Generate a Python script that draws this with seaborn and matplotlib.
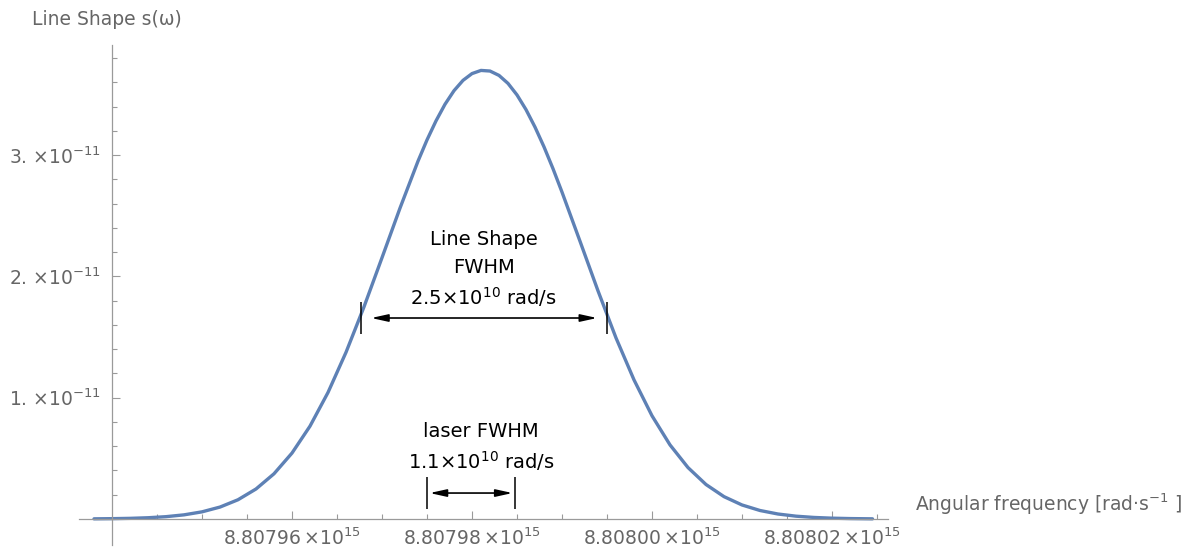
import matplotlib
matplotlib.use("Agg")
import matplotlib.pyplot as plt
import seaborn as sns
import pandas as pd

# ---- data ----
omega = [8.807938e15, 8.807940e15, 8.807942e15, 8.807944e15, 8.807946e15, 8.807948e15,
         8.807950e15, 8.807952e15, 8.807954e15, 8.807956e15, 8.807958e15, 8.807960e15,
         8.807962e15, 8.807964e15, 8.807966e15, 8.807968e15, 8.807970e15, 8.807972e15,
         8.807974e15, 8.807975e15, 8.807976e15, 8.807977e15, 8.807978e15, 8.807979e15,
         8.807980e15, 8.807981e15, 8.807982e15, 8.807983e15, 8.807984e15, 8.807985e15,
         8.807986e15, 8.807987e15, 8.807988e15, 8.807989e15, 8.807990e15, 8.807992e15,
         8.807994e15, 8.807996e15, 8.807998e15, 8.808000e15, 8.808002e15, 8.808004e15,
         8.808006e15, 8.808008e15, 8.808010e15, 8.808012e15, 8.808014e15, 8.808016e15,
         8.808018e15, 8.808020e15, 8.808022e15, 8.8080245e15]
line_shape = [0.0014e-11, 0.0028e-11, 0.0054e-11, 0.0104e-11, 0.0192e-11, 0.0342e-11,
              0.0590e-11, 0.0984e-11, 0.1587e-11, 0.2474e-11, 0.3729e-11, 0.5436e-11,
              0.7656e-11, 1.043e-11, 1.374e-11, 1.749e-11, 2.154e-11, 2.563e-11,
              2.950e-11, 3.125e-11, 3.282e-11, 3.419e-11, 3.531e-11, 3.616e-11,
              3.672e-11, 3.698e-11, 3.693e-11, 3.657e-11, 3.591e-11, 3.496e-11,
              3.375e-11, 3.231e-11, 3.068e-11, 2.888e-11, 2.695e-11, 2.290e-11,
              1.881e-11, 1.493e-11, 1.147e-11, 0.851e-11, 0.611e-11, 0.424e-11,
              0.2843e-11, 0.1844e-11, 0.1157e-11, 0.0701e-11, 0.0411e-11, 0.0233e-11,
              0.0128e-11, 0.0068e-11, 0.0035e-11, 0.0014e-11]
x_ticks = [8.80796e15, 8.80798e15, 8.80800e15, 8.80802e15]
x_tick_text = ["8.80796", "8.80798", "8.80800", "8.80802"]
y_ticks = [1e-11, 2e-11, 3e-11]
y_tick_text = ["1.", "2.", "3."]
line_fwhm_text = ["Line Shape", "FWHM", "2.5\u00d710$^{10}$ rad/s"]
laser_fwhm_text = ["laser FWHM", "1.1\u00d710$^{10}$ rad/s"]

df = pd.DataFrame({"omega": omega, "s": line_shape})

sns.set_style("white")
plt.rcParams["font.family"] = ["DejaVu Sans"]
plt.rcParams["mathtext.fontset"] = "dejavusans"

AX_C = "#9a9a9a"
LBL_C = "#666666"
FS = 13.5

W, H = 1186, 554
fig = plt.figure(figsize=(W / 100, H / 100), dpi=100)
ax = fig.add_axes([79 / W, 1 - 545 / H, (888 - 79) / W, (545 - 45) / H])

sns.lineplot(data=df, x="omega", y="s", ax=ax, color="#5E81B5", lw=2.4,
             sort=False, estimator=None)

base = 8.80796e15
ax.set_xlim(base + (79 - 292) / 90 * 1e10, base + (888 - 292) / 90 * 1e10)
ax.set_ylim((519 - 545) / 121.3 * 1e-11, (519 - 45) / 121.3 * 1e-11)

for s in ["top", "right"]:
    ax.spines[s].set_visible(False)
ax.spines["left"].set_position(("data", 8.80794e15))
ax.spines["bottom"].set_position(("data", 0))
for s in ["left", "bottom"]:
    ax.spines[s].set_color(AX_C)
    ax.spines[s].set_linewidth(0.9)

ax.set_xticks(x_ticks)
ax.set_xticklabels([t + "\u2009\u00d710$^{15}$" for t in x_tick_text])
ax.set_xticks([8.80794e15 + k * 0.5e10 for k in range(1, 18) if k % 4 != 0], minor=True)
ax.set_yticks(y_ticks)
ax.set_yticklabels([t + " \u00d710$^{-11}$" for t in y_tick_text])
ax.set_yticks([k * 0.2e-11 for k in range(1, 20) if k % 5 != 0], minor=True)

ax.tick_params(which="both", direction="in", color=AX_C, width=0.8,
               labelcolor=LBL_C, labelsize=FS, bottom=True, left=True)
ax.tick_params(which="major", length=5.8)
ax.tick_params(which="minor", length=3.6)
ax.tick_params(axis="x", which="major", pad=6)
ax.tick_params(axis="y", which="major", pad=8)
ax.set_xlabel("")
ax.set_ylabel("")

# ---- annotations ----
def bar(x, y0, y1):
    ax.plot([x, x], [y0, y1], color="black", lw=1.1, solid_capstyle="butt")

def darrow(x0, x1, y):
    ax.annotate("", xy=(x1, y), xytext=(x0, y),
                arrowprops=dict(arrowstyle="<|-|>,head_length=1.0,head_width=0.22",
                                color="black", lw=1.2, shrinkA=0, shrinkB=0))

bar(8.8079677e15, 1.525e-11, 1.790e-11)
bar(8.8079950e15, 1.525e-11, 1.790e-11)
darrow(8.8079688e15, 8.8079939e15, 1.657e-11)

bar(8.807975e15, 0.082e-11, 0.346e-11)
bar(8.8079848e15, 0.082e-11, 0.346e-11)
darrow(8.8079753e15, 8.8079845e15, 0.214e-11)

cx = 8.8079813e15
for txt, yb in zip(line_fwhm_text, [2.259e-11, 2.028e-11, 1.764e-11]):
    ax.text(cx, yb, txt, ha="center", va="baseline", fontsize=FS + 0.5, color="black")
for txt, yb in zip(laser_fwhm_text, [0.676e-11, 0.412e-11]):
    ax.text(8.807981e15, yb, txt, ha="center", va="baseline", fontsize=FS + 0.5, color="black")

fig.text(32 / W, 1 - 25 / H, "Line Shape s(\u03c9)", ha="left", va="baseline",
         fontsize=FS, color=LBL_C)
fig.text(915 / W, 1 - 511 / H, "Angular frequency [rad\u00b7s$^{-1}$ ]", ha="left",
         va="baseline", fontsize=FS, color=LBL_C)

fig.savefig("out.png", dpi=100)
